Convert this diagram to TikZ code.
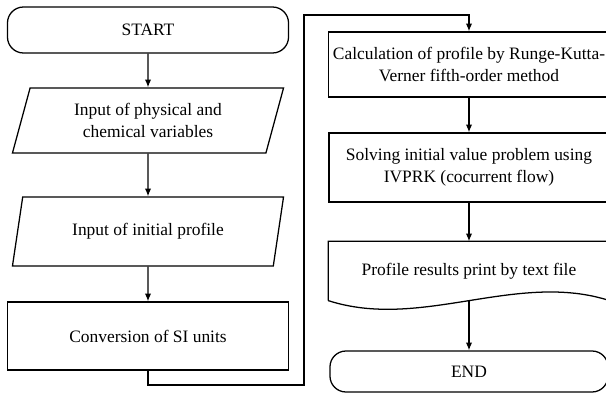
\documentclass[tikz,border=0pt]{standalone}
\usepackage{fontspec}
\setmainfont{Liberation Serif}
\usetikzlibrary{shapes}
\usetikzlibrary{arrows.meta}

\begin{document}
\begin{tikzpicture}[x=0.025cm, y=-0.025cm, line width=0.9pt, >={Latex[length=5.5pt,width=4.5pt]},
		every node/.style={font=\fontsize{12.4}{15.5}\selectfont, align=center},
		terminal/.style={rectangle, rounded corners=0.4cm, draw=black, minimum width=7.025cm, minimum height=1.15cm},
		inbox/.style={trapezium, trapezium left angle=68, trapezium right angle=112, trapezium stretches body, draw=black, minimum width=6.775cm},
		procbox/.style={rectangle, draw=black, minimum width=7cm}]
		\useasboundingbox (0,0) rectangle (606,394);
		\clip (0,0) rectangle (606,394);
		% left column
		\node[terminal] (start) at (148, 30) {START};
		\node[inbox, minimum height=1.625cm] (phys) at (148, 120.5) {Input of physical and\\chemical variables};
		\node[inbox, minimum height=1.725cm] (prof) at (148, 231.5) {Input of initial profile};
		\node[procbox, minimum width=7.025cm, minimum height=1.7cm] (si) at (148, 336) {Conversion of SI units};
		% right column
		\node[procbox, minimum height=1.625cm] (rkv) at (469, 64.5) {Calculation of profile by Runge-Kutta-\\Verner fifth-order method};
		\node[procbox, minimum height=1.725cm] (ivp) at (469, 167.5) {Solving initial value problem using\\IVPRK (cocurrent flow)};
		\node[rectangle, minimum width=7cm, minimum height=1.45cm] (doc) at (469, 271) {Profile results print by text file};
		\draw (doc.south west) -- (doc.north west) -- (doc.north east) -- (doc.south east)
			.. controls +(-93,-30) and +(93,30) .. (doc.south west);
		\node[terminal, minimum width=6.95cm, minimum height=1.025cm] (end) at (469, 371.5) {END};
		\coordinate (low) at (304, 385);
		\coordinate (high) at (304, 15);
		\draw[->] (start) -- (phys);
		\draw[->] (phys) -- (prof);
		\draw[->] (prof) -- (si);
		\draw[->] (si.south) |- (low) -- (high) -| (rkv.north);
		\draw[->] (rkv) -- (ivp);
		\draw[->] (ivp) -- (doc);
		\draw[->] (doc.south) -- (end);
	\end{tikzpicture}
\end{document}
